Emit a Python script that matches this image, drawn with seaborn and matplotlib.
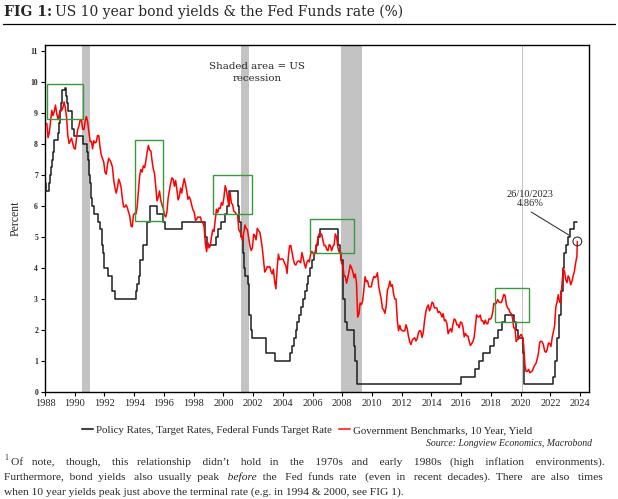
import numpy as np
import pandas as pd
import matplotlib
matplotlib.use("Agg")
import matplotlib.pyplot as plt
import seaborn as sns
from matplotlib.lines import Line2D

# ---------------- data ----------------
# Fed funds target rate: change dates and new levels (upper bound after 2008)
ff_dates = ["1988-01-01", "1988-01-28", "1988-03-30", "1988-05-09", "1988-05-25", "1988-06-22",
            "1988-07-19", "1988-08-09", "1988-11-17", "1988-12-15", "1988-12-29", "1989-01-05",
            "1989-02-09", "1989-02-14", "1989-02-23", "1989-05-17", "1989-06-06", "1989-07-07",
            "1989-07-27", "1989-10-18", "1989-11-06", "1989-12-20", "1990-07-13", "1990-10-29",
            "1990-11-13", "1990-12-07", "1990-12-18", "1991-01-09", "1991-02-01", "1991-03-08",
            "1991-04-30", "1991-08-06", "1991-09-13", "1991-10-31", "1991-11-06", "1991-12-06",
            "1991-12-20", "1992-04-09", "1992-07-02", "1992-09-04", "1994-02-04", "1994-03-22",
            "1994-04-18", "1994-05-17", "1994-08-16", "1994-11-15", "1995-02-01", "1995-07-06",
            "1995-12-19", "1996-01-31", "1997-03-25", "1998-09-29", "1998-10-15", "1998-11-17",
            "1999-06-30", "1999-08-24", "1999-11-16", "2000-02-02", "2000-03-21", "2000-05-16",
            "2001-01-03", "2001-01-31", "2001-03-20", "2001-04-18", "2001-05-15", "2001-06-27",
            "2001-08-21", "2001-09-17", "2001-10-02", "2001-11-06", "2001-12-11", "2002-11-06",
            "2003-06-25", "2004-06-30", "2004-08-10", "2004-09-21", "2004-11-10", "2004-12-14",
            "2005-02-02", "2005-03-22", "2005-05-03", "2005-06-30", "2005-08-09", "2005-09-20",
            "2005-11-01", "2005-12-13", "2006-01-31", "2006-03-28", "2006-05-10", "2006-06-29",
            "2007-09-18", "2007-10-31", "2007-12-11", "2008-01-22", "2008-01-30", "2008-03-18",
            "2008-04-30", "2008-10-08", "2008-10-29", "2008-12-16", "2015-12-16", "2016-12-14",
            "2017-03-15", "2017-06-14", "2017-12-13", "2018-03-21", "2018-06-13", "2018-09-26",
            "2018-12-19", "2019-07-31", "2019-09-18", "2019-10-30", "2020-03-03", "2020-03-15",
            "2022-03-16", "2022-05-04", "2022-06-15", "2022-07-27", "2022-09-21", "2022-11-02",
            "2022-12-14", "2023-02-01", "2023-03-22", "2023-05-03", "2023-07-26", "2023-10-26"]
ff_rates = [6.75, 6.5, 6.75, 7.0, 7.25, 7.5,
            7.75, 8.125, 8.375, 8.6875, 9.0, 9.0625,
            9.3125, 9.5625, 9.75, 9.8125, 9.5625, 9.3125,
            9.0625, 8.75, 8.5, 8.25, 8.0, 7.75,
            7.5, 7.25, 7.0, 6.75, 6.25, 6.0,
            5.75, 5.5, 5.25, 5.0, 4.75, 4.5,
            4.0, 3.75, 3.25, 3.0, 3.25, 3.5,
            3.75, 4.25, 4.75, 5.5, 6.0, 5.75,
            5.5, 5.25, 5.5, 5.25, 5.0, 4.75,
            5.0, 5.25, 5.5, 5.75, 6.0, 6.5,
            6.0, 5.5, 5.0, 4.5, 4.0, 3.75,
            3.5, 3.0, 2.5, 2.0, 1.75, 1.25,
            1.0, 1.25, 1.5, 1.75, 2.0, 2.25,
            2.5, 2.75, 3.0, 3.25, 3.5, 3.75,
            4.0, 4.25, 4.5, 4.75, 5.0, 5.25,
            4.75, 4.5, 4.25, 3.5, 3.0, 2.25,
            2.0, 1.5, 1.0, 0.25, 0.5, 0.75,
            1.0, 1.25, 1.5, 1.75, 2.0, 2.25,
            2.5, 2.25, 2.0, 1.75, 1.25, 0.25,
            0.5, 1.0, 1.75, 2.5, 3.25, 4.0,
            4.5, 4.75, 5.0, 5.25, 5.5, 5.5]

# US 10 year government bond yield, monthly from Jan 1988 to Oct 2023
yield_start = "1988-01-15"
ust10y = [
    8.67, 8.21, 8.37, 8.72, 9.09, 8.92, 9.06, 9.26, 8.98, 8.80, 8.96, 9.11,
    9.09, 9.17, 9.36, 9.18, 8.86, 8.28, 8.02, 8.11, 8.19, 8.01, 7.87, 7.84,
    8.21, 8.47, 8.59, 8.79, 8.76, 8.48, 8.47, 8.75, 8.89, 8.72, 8.39, 8.08,
    8.09, 7.85, 8.11, 8.04, 8.07, 8.28, 8.27, 7.90, 7.65, 7.53, 7.42, 7.09,
    7.03, 7.34, 7.54, 7.48, 7.39, 7.26, 6.84, 6.59, 6.42, 6.59, 6.87, 6.77,
    6.60, 6.26, 5.98, 5.97, 6.04, 5.96, 5.81, 5.68, 5.36, 5.33, 5.72, 5.77,
    5.75, 5.97, 6.48, 6.97, 7.18, 7.10, 7.30, 7.24, 7.46, 7.74, 7.96, 7.81,
    7.78, 7.47, 7.20, 7.06, 6.63, 6.17, 6.28, 6.49, 6.20, 6.04, 5.93, 5.71,
    5.65, 5.81, 6.27, 6.51, 6.74, 6.91, 6.87, 6.64, 6.83, 6.53, 6.20, 6.30,
    6.58, 6.42, 6.69, 6.89, 6.71, 6.49, 6.22, 6.30, 6.21, 6.03, 5.88, 5.81,
    5.54, 5.57, 5.65, 5.64, 5.65, 5.50, 5.46, 5.34, 4.81, 4.53, 4.83, 4.65,
    4.72, 5.00, 5.23, 5.18, 5.54, 5.90, 5.79, 5.94, 5.92, 6.11, 6.03, 6.28,
    6.66, 6.52, 6.26, 5.99, 6.44, 6.10, 6.05, 5.83, 5.80, 5.74, 5.72, 5.24,
    5.16, 5.10, 4.89, 5.14, 5.39, 5.28, 5.24, 4.97, 4.73, 4.57, 4.65, 5.09,
    5.04, 4.91, 5.28, 5.21, 5.16, 4.93, 4.65, 4.26, 3.87, 3.94, 4.05, 4.03,
    4.05, 3.90, 3.81, 3.96, 3.57, 3.33, 3.98, 4.45, 4.27, 4.29, 4.30, 4.27,
    4.15, 4.08, 3.83, 4.35, 4.72, 4.73, 4.50, 4.28, 4.13, 4.10, 4.19, 4.23,
    4.22, 4.17, 4.50, 4.34, 4.14, 4.00, 4.18, 4.26, 4.20, 4.46, 4.54, 4.47,
    4.42, 4.57, 4.72, 4.99, 5.11, 5.11, 5.09, 4.88, 4.72, 4.73, 4.60, 4.56,
    4.76, 4.72, 4.56, 4.69, 4.75, 5.10, 5.00, 4.67, 4.52, 4.53, 4.15, 4.10,
    3.74, 3.74, 3.51, 3.68, 3.88, 4.10, 4.01, 3.89, 3.69, 3.81, 3.53, 2.42,
    2.52, 2.87, 2.82, 2.93, 3.29, 3.72, 3.56, 3.59, 3.40, 3.39, 3.40, 3.59,
    3.73, 3.69, 3.73, 3.85, 3.42, 3.20, 3.01, 2.70, 2.65, 2.54, 2.76, 3.29,
    3.39, 3.58, 3.41, 3.46, 3.17, 3.00, 3.00, 2.30, 1.98, 2.15, 2.01, 1.98,
    1.97, 1.97, 2.17, 2.05, 1.80, 1.62, 1.53, 1.68, 1.72, 1.75, 1.65, 1.72,
    1.91, 1.98, 1.96, 1.76, 1.93, 2.30, 2.58, 2.74, 2.81, 2.62, 2.72, 2.90,
    2.86, 2.71, 2.72, 2.71, 2.56, 2.60, 2.54, 2.42, 2.53, 2.30, 2.33, 2.21,
    1.88, 1.98, 2.04, 1.94, 2.20, 2.36, 2.32, 2.17, 2.17, 2.07, 2.26, 2.24,
    2.09, 1.78, 1.89, 1.81, 1.81, 1.64, 1.50, 1.56, 1.63, 1.76, 2.14, 2.49,
    2.43, 2.42, 2.48, 2.30, 2.30, 2.19, 2.32, 2.21, 2.20, 2.36, 2.35, 2.40,
    2.58, 2.86, 2.84, 2.87, 2.98, 2.91, 2.89, 2.89, 3.00, 3.15, 3.12, 2.83,
    2.71, 2.68, 2.57, 2.53, 2.40, 2.07, 2.06, 1.63, 1.70, 1.71, 1.81, 1.86,
    1.76, 1.50, 0.87, 0.66, 0.67, 0.73, 0.62, 0.65, 0.68, 0.79, 0.87, 0.93,
    1.08, 1.26, 1.61, 1.64, 1.62, 1.52, 1.32, 1.28, 1.37, 1.58, 1.56, 1.47,
    1.76, 1.93, 2.13, 2.75, 2.90, 3.14, 2.90, 2.90, 3.52, 3.98, 3.89, 3.62,
    3.53, 3.75, 3.66, 3.46, 3.57, 3.75, 3.90, 4.17, 4.38, 4.86,
]

# recessions (start, end)
rec_start = ["1990-07-01", "2001-03-01", "2007-12-01", "2020-02-01"]
rec_end = ["1991-01-20", "2001-09-20", "2009-05-01", "2020-03-10"]

# highlight boxes: x-range (years) and y-range (percent)
box_x0 = [1988.15, 1994.06, 1999.29, 2005.85, 2018.28]
box_x1 = [1990.56, 1995.96, 2001.95, 2008.81, 2020.59]
box_y0 = [8.80, 5.52, 5.73, 4.50, 2.25]
box_y1 = [9.93, 8.12, 7.02, 5.60, 3.37]

last_date = "2023-10-26"
last_yield = 4.86

x_ticks = list(range(1988, 2025, 2))
y_ticks = list(range(0, 12))

legend_labels = ["Policy Rates, Target Rates, Federal Funds Target Rate",
                 "Government Benchmarks, 10 Year, Yield"]


def dec_year(s):
    d = pd.to_datetime(pd.Series(s))
    return (d.dt.year + (d.dt.dayofyear - 1) / 365.25).to_numpy()


ff_df = pd.DataFrame({"t": dec_year(ff_dates), "v": ff_rates})
y_dates = pd.date_range(yield_start, periods=len(ust10y) - 1, freq="MS") + pd.Timedelta(days=14)
y_dates = list(y_dates.strftime("%Y-%m-%d")) + [last_date]
y_df = pd.DataFrame({"t": dec_year(y_dates), "v": ust10y})

# ---------------- figure ----------------
sns.set_style("ticks")
plt.rcParams["font.family"] = ["Liberation Serif", "DejaVu Serif"]

W, H = 618, 499
fig = plt.figure(figsize=(W / 100, H / 100), dpi=100)
ax = fig.add_axes([45 / W, (H - 392) / H, (589 - 45) / W, (392 - 45) / H])

for s, e in zip(dec_year(rec_start), dec_year(rec_end)):
    ax.axvspan(s, e, color="#c3c3c3", lw=0, zorder=0)

sns.lineplot(data=ff_df, x="t", y="v", ax=ax, color="#1e1e1e", lw=1.1,
             drawstyle="steps-post", estimator=None, zorder=3, legend=False)
sns.lineplot(data=y_df, x="t", y="v", ax=ax, color="#ff0000", lw=1.1,
             estimator=None, zorder=4, legend=False)

for x0, x1, y0, y1 in zip(box_x0, box_x1, box_y0, box_y1):
    ax.add_patch(plt.Rectangle((x0, y0), x1 - x0, y1 - y0, fill=False,
                               edgecolor="#3a9a3a", lw=1.0, zorder=5))

lx = dec_year([last_date])[0]
ax.scatter([lx], [last_yield], s=40, facecolor="none", edgecolor="#333333", lw=0.8, zorder=6)
ax.text(2020.65, 6.22, f"26/10/2023\n{last_yield:.2f}%", ha="center", va="center",
        fontsize=7.5, linespacing=0.95)
ax.annotate("", xy=(lx - 0.55, last_yield + 0.2), xytext=(2020.71, 5.81),
            arrowprops=dict(arrowstyle="-", color="#222222", lw=0.7, shrinkA=0, shrinkB=0))

ax.text(2002.27, 10.31, "Shaded area = US\nrecession", ha="center", va="center",
        fontsize=7.4, family="DejaVu Serif", linespacing=1.45)

ax.set_xlim(1988, 2024.6)
ax.set_ylim(0, 11.2)
ax.set_xticks(x_ticks)
ax.set_xticklabels([str(t) for t in x_ticks], fontsize=7.5)
ax.set_yticks(y_ticks)
ax.set_yticklabels([str(t) for t in y_ticks], fontsize=5.5, fontweight="bold")
ax.tick_params(axis="both", direction="out", length=3, width=0.8, color="black", pad=2)
ax.set_xlabel("")
ax.set_ylabel("Percent", fontsize=8.5, labelpad=6)
for sp in ax.spines.values():
    sp.set_visible(True)
    sp.set_color("black")
    sp.set_linewidth(1.0)

# legend
handles = [Line2D([], [], color="#444444", lw=1.5), Line2D([], [], color="#ff4444", lw=1.5)]
fig.legend(handles, legend_labels,
           loc="center", bbox_to_anchor=(0.497, (H - 430) / H), ncol=2, frameon=False,
           fontsize=7.8, handlelength=1.0, handletextpad=0.3, columnspacing=0.6)

fig.text(592 / W, (H - 443) / H, "Source: Longview Economics, Macrobond", ha="right",
         va="center", fontsize=7, style="italic")

fig.canvas.draw()
r = fig.canvas.get_renderer()

# title
t1 = fig.text(4 / W, (H - 12) / H, "FIG 1:", fontsize=10, fontweight="bold", va="center",
              ha="left", family="DejaVu Serif")
bb = t1.get_window_extent(r)
fig.text((bb.x1 + 3) / W, (H - 12) / H, "US 10 year bond yields & the Fed Funds rate (%)",
         fontsize=10, va="center", ha="left", family="DejaVu Serif")
fig.add_artist(Line2D([3 / W, 615 / W], [(H - 24) / H] * 2, color="black", lw=0.9))

# footnote: whole-line text objects, justified by padding the word gaps with spaces
fam = "Liberation Serif"
line1 = "Of note, though, this relationship didn\u2019t hold in the 1970s and early 1980s (high inflation environments)."
line2 = "Furthermore, bond yields also usually peak before the Fed funds rate (even in recent decades). There are also times"
line3 = "when 10 year yields peak just above the terminal rate (e.g. in 1994 & 2000, see FIG 1)."
italic_words = {"before"}


def measure(txt, fs, st="normal"):
    tt = fig.text(0, 0, txt, fontsize=fs, style=st, family=fam)
    w = tt.get_window_extent(r).width
    tt.remove()
    return w


def build(text, extra):
    words = text.split()
    styles = ["italic" if w in italic_words else "normal" for w in words]
    n = len(words) - 1
    gaps = [1 + (extra * (i + 1)) // n - (extra * i) // n for i in range(n)]
    pieces = []
    cur, cst = words[0], styles[0]
    for i in range(1, len(words)):
        sp = " " * gaps[i - 1]
        if styles[i] == cst:
            cur += sp + words[i]
        else:
            pieces.append((cur, cst))
            cur, cst = sp + words[i], styles[i]
    pieces.append((cur, cst))
    return pieces


def pieces_width(pieces, fs):
    return sum(measure(t, fs, st) for t, st in pieces)


def draw_line(text, x0, y, fs, x1=None):
    pieces = build(text, 0)
    if x1 is not None:
        target = x1 - x0
        prev_p, prev_w = pieces, pieces_width(pieces, fs)
        for e in range(1, 200):
            p = build(text, e)
            w = pieces_width(p, fs)
            if w >= target:
                pieces = p if abs(w - target) < abs(prev_w - target) else prev_p
                break
            prev_p, prev_w = p, w
        else:
            pieces = prev_p
    x = x0
    for t, st in pieces:
        tt = fig.text(x / W, (H - y) / H, t, fontsize=fs, style=st, family=fam, va="center")
        x += tt.get_window_extent(r).width


fs = min(10.0 * 400 / measure(line3, 10.0),
         10.0 * 590 / pieces_width(build(line2, 0), 10.0))

fig.text(4 / W, (H - 458) / H, "1", fontsize=5.5, va="center", family=fam)
draw_line(line1, 11, 462, fs, x1=604)
draw_line(line2, 4, 477, fs, x1=604)
draw_line(line3, 4, 492, fs)

fig.savefig("out.png", dpi=100)
